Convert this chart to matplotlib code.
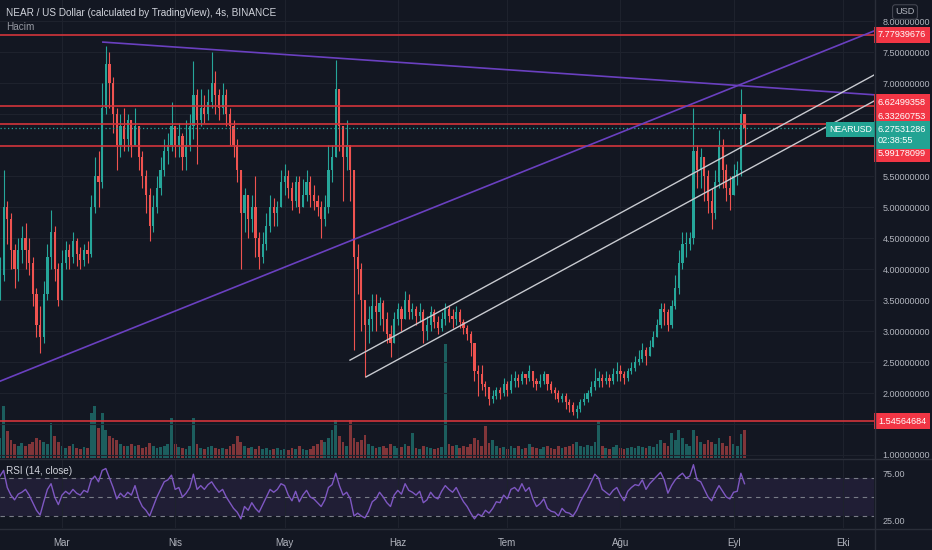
import numpy as np
import matplotlib
matplotlib.use("Agg")
import matplotlib.pyplot as plt
from matplotlib.transforms import blended_transform_factory

plt.rcParams["font.family"] = ["Liberation Sans", "DejaVu Sans"]

W, H = 932, 550
BG = "#131722"
UP = "#26a69a"
DN = "#ef5350"
TXT = "#b2b5be"
GRID = "#1e222d"
SEP = "#2a2e39"
LEVEL_RED = "#d3343b"
PURPLE = "#6a40c0"

# days counted from 1 March, one candle per day (t = -17 .. 187)
DAYS = np.arange(-17, 188)

CLOSE = [
    3.9, 5.0, 4.8, 4.3, 4.0, 4.3, 4.5, 4.3, 4.1, 3.6,
    3.1, 2.9, 3.6, 4.2, 4.6, 4.0, 3.5, 4.1, 4.3, 4.2,
    4.45, 4.25, 4.15, 4.3, 4.25, 5.0, 5.5, 5.4, 6.6, 7.3,
    7.0, 6.5, 6.0, 6.3, 6.1, 6.4, 6.0, 6.3, 5.8, 5.5,
    5.2, 4.7, 5.0, 5.3, 5.6, 5.9, 6.0, 6.3, 6.0, 6.15,
    5.8, 6.0, 6.3, 6.8, 6.4, 6.6, 6.5, 6.7, 7.0, 6.8,
    6.6, 6.8, 6.5, 6.3, 6.0, 5.6, 4.9, 5.2, 4.8, 5.0,
    4.5, 4.2, 4.4, 4.7, 5.0, 4.9, 5.0, 5.4, 5.5, 5.3,
    5.1, 5.4, 5.0, 5.2, 5.4, 5.2, 5.1, 5.0, 4.8, 5.0,
    5.6, 5.8, 6.9, 6.3, 5.8, 6.0, 5.6, 4.2, 4.0, 3.5,
    3.1, 3.2, 3.4, 3.3, 3.45, 3.2, 2.95, 2.8, 3.2, 3.35,
    3.2, 3.5, 3.3, 3.35, 3.25, 3.3, 3.0, 3.1, 3.3, 3.15,
    3.05, 3.2, 3.35, 3.25, 3.2, 3.3, 3.15, 3.05, 2.95, 2.8,
    2.35, 2.3, 2.15, 2.1, 1.9, 1.95, 2.05, 2.0, 2.15, 2.05,
    2.2, 2.25, 2.2, 2.3, 2.25, 2.35, 2.2, 2.15, 2.2, 2.3,
    2.15, 2.05, 2.0, 1.9, 1.95, 1.85, 1.8, 1.7, 1.75, 1.85,
    1.9, 2.0, 2.1, 2.2, 2.25, 2.2, 2.25, 2.2, 2.3, 2.35,
    2.3, 2.25, 2.35, 2.4, 2.5, 2.55, 2.7, 2.6, 2.75, 2.9,
    3.1, 3.35, 3.3, 3.1, 3.4, 3.7, 4.1, 4.4, 4.4, 4.5,
    5.9, 5.6, 5.8, 5.5, 5.1, 4.9, 5.4, 6.0, 5.6, 5.3,
    5.2, 5.5, 5.6, 6.5, 6.27531286,
]

HIGH = [
    4.2, 5.6, 5.1, 4.9, 4.4, 4.5, 4.7, 4.75, 4.5, 4.2,
    3.7, 3.4, 3.8, 4.4, 4.95, 4.7, 4.1, 4.3, 4.45, 4.4,
    4.6, 4.5, 4.35, 4.4, 4.45, 5.2, 5.8, 5.9, 7.0, 7.6,
    7.5, 7.1, 6.6, 6.5, 6.6, 6.5, 6.4, 6.6, 6.3, 5.9,
    5.6, 5.3, 5.2, 5.5, 5.8, 6.1, 6.2, 6.7, 6.3, 6.35,
    6.2, 6.4, 6.5, 7.35, 6.9, 6.9, 6.8, 6.9, 7.5, 7.2,
    6.9, 7.0, 6.9, 6.6, 6.4, 6.1, 5.6, 5.3, 5.2, 5.2,
    5.5, 4.6, 4.6, 4.9, 5.2, 5.15, 5.1, 5.6, 5.7, 5.6,
    5.4, 5.5, 5.5, 5.45, 5.6, 5.5, 5.35, 5.2, 5.1, 5.2,
    6.0, 6.0, 7.37, 6.9, 6.3, 6.4, 6.0, 5.6, 4.4, 4.1,
    3.5, 3.4, 3.6, 3.6, 3.55, 3.5, 3.3, 3.1, 3.3, 3.45,
    3.4, 3.65, 3.6, 3.45, 3.4, 3.45, 3.35, 3.25, 3.4, 3.35,
    3.25, 3.3, 3.45, 3.4, 3.35, 3.4, 3.35, 3.2, 3.1, 3.0,
    2.8, 2.45, 2.45, 2.2, 2.1, 2.05, 2.1, 2.1, 2.25, 2.2,
    2.3, 2.35, 2.3, 2.35, 2.3, 2.45, 2.35, 2.25, 2.3, 2.35,
    2.3, 2.2, 2.1, 2.05, 2.0, 2.0, 1.9, 1.85, 1.8, 1.9,
    2.0, 2.05, 2.2, 2.4, 2.35, 2.3, 2.35, 2.3, 2.4, 2.5,
    2.45, 2.35, 2.4, 2.5, 2.6, 2.7, 2.8, 2.75, 2.85, 3.0,
    3.2, 3.45, 3.45, 3.35, 3.5, 3.9, 4.3, 4.6, 4.6, 4.6,
    6.6, 6.0, 5.95, 5.8, 5.6, 5.3, 5.6, 6.25, 6.1, 5.7,
    5.5, 5.7, 5.75, 6.9, 6.5,
]

LOW = [
    3.5, 3.8, 4.4, 4.0, 3.7, 3.8, 4.1, 4.0, 3.9, 3.4,
    2.9, 2.65, 2.8, 3.5, 4.0, 3.8, 3.4, 3.5, 4.0, 4.0,
    4.1, 4.05, 4.0, 4.05, 4.1, 4.2, 4.9, 5.0, 5.3, 6.5,
    6.6, 6.2, 5.6, 5.8, 5.9, 5.9, 5.8, 6.0, 5.6, 5.3,
    4.9, 4.45, 4.6, 4.9, 5.2, 5.5, 5.7, 5.9, 5.8, 5.8,
    5.6, 5.6, 5.9, 6.1, 5.7, 6.3, 6.35, 6.4, 6.6, 6.5,
    6.4, 6.5, 6.3, 6.0, 5.8, 5.4, 4.0, 4.6, 4.5, 4.6,
    4.2, 4.0, 4.1, 4.3, 4.6, 4.7, 4.7, 5.0, 5.2, 5.15,
    4.95, 5.0, 4.9, 5.0, 5.1, 5.0, 4.95, 4.85, 4.5, 4.7,
    4.9, 5.4, 5.8, 5.9, 5.1, 5.6, 5.1, 2.7, 3.6, 3.0,
    2.26, 2.8, 3.0, 3.0, 3.1, 3.0, 2.8, 2.58, 2.8, 3.1,
    3.0, 3.2, 3.2, 3.2, 3.1, 3.15, 2.8, 2.85, 3.0, 3.05,
    2.95, 3.0, 3.1, 3.15, 3.05, 3.1, 3.05, 2.95, 2.85, 2.6,
    2.2, 1.95, 2.05, 1.95, 1.8, 1.84, 1.9, 1.9, 1.95, 1.95,
    2.0, 2.1, 2.1, 2.15, 2.15, 2.2, 2.1, 2.05, 2.1, 2.15,
    2.05, 2.0, 1.9, 1.85, 1.85, 1.75, 1.7, 1.65, 1.6, 1.7,
    1.8, 1.85, 1.95, 2.05, 2.1, 2.1, 2.15, 2.1, 2.15, 2.2,
    2.2, 2.15, 2.2, 2.3, 2.35, 2.45, 2.5, 2.45, 2.6, 2.75,
    2.9, 3.05, 3.1, 3.0, 3.05, 3.35, 3.6, 4.0, 4.2, 4.3,
    4.4, 5.3, 5.3, 5.1, 4.9, 4.65, 4.8, 5.3, 5.3, 5.1,
    4.95, 5.2, 5.35, 5.5, 6.0,
]

VOLUME = [
    20, 52, 27, 18, 14, 12, 15, 12, 14, 16,
    20, 18, 16, 14, 35, 22, 16, 12, 10, 12,
    14, 10, 9, 11, 10, 45, 52, 30, 45, 28,
    22, 20, 18, 14, 12, 12, 14, 12, 13, 10,
    11, 15, 12, 10, 11, 12, 14, 40, 14, 11,
    10, 9, 12, 40, 14, 10, 9, 11, 12, 10,
    9, 10, 9, 12, 14, 22, 16, 12, 10, 11,
    9, 12, 9, 10, 8, 9, 10, 8, 9, 8,
    10, 9, 12, 9, 8, 9, 12, 14, 18, 16,
    20, 28, 38, 22, 16, 12, 38, 20, 16, 18,
    23, 14, 12, 10, 11, 12, 10, 14, 12, 10,
    11, 14, 12, 25, 10, 9, 12, 11, 10, 9,
    10, 11, 114, 14, 12, 13, 10, 12, 11, 14,
    20, 18, 12, 32, 15, 18, 12, 10, 11, 9,
    12, 10, 12, 9, 10, 14, 11, 10, 9, 11,
    12, 10, 9, 12, 10, 11, 12, 14, 16, 12,
    11, 13, 12, 16, 37, 12, 10, 9, 11, 13,
    10, 9, 10, 11, 10, 12, 11, 10, 12, 11,
    14, 18, 15, 12, 25, 18, 28, 20, 14, 12,
    28, 22, 16, 14, 18, 16, 14, 20, 15, 12,
    22, 14, 12, 24, 28,
]

RSI = [
    72, 78, 60, 52, 47, 53, 55, 58, 52, 44,
    36, 31, 45, 58, 64, 50, 42, 52, 56, 53,
    58, 54, 52, 57, 55, 68, 72, 66, 78, 80,
    70, 60, 48, 54, 50, 55, 52, 62, 48, 40,
    36, 30, 40, 50, 58, 66, 68, 73, 58, 60,
    50, 54, 60, 74, 58, 62, 58, 63, 66, 60,
    55, 58, 50, 44, 38, 34, 27, 40, 36, 44,
    38, 34, 42, 50, 58, 55, 58, 64, 62, 52,
    46, 56, 45, 52, 57, 50, 48, 44, 40, 47,
    60, 63, 75, 62, 52, 55, 48, 30, 33, 30,
    28, 35, 45, 48, 55, 50, 44, 40, 52, 57,
    53, 64, 57, 55, 52, 56, 44, 47, 55, 50,
    48, 56, 62, 58, 55, 60, 52, 45, 40, 33,
    27, 32, 30, 36, 33, 38, 45, 44, 52, 48,
    58, 60, 56, 64, 56, 60, 48, 40, 43, 48,
    38, 35, 34, 30, 38, 34, 33, 30, 36, 45,
    52, 58, 66, 74, 70, 58, 55, 52, 57, 60,
    52, 46, 56, 60, 63, 62, 68, 58, 64, 68,
    72, 76, 68, 54, 62, 68, 72, 75, 70, 72,
    84, 68, 66, 58, 50, 46, 55, 62, 56, 50,
    48, 55, 56, 75, 64,
]

MONTH_DAYS = [0, 31, 61, 92, 122, 153, 184, 214]
MONTH_LABELS = ["Mar", "Nis", "May", "Haz", "Tem", "Ağu", "Eyl", "Eki"]
PRICE_TICKS = [1.0, 2.0, 2.5, 3.0, 3.5, 4.0, 4.5, 5.0, 5.5, 7.0, 7.5, 8.0]
PRICE_GRID = np.arange(1.0, 8.01, 0.5)

LEVELS = [7.77939676, 6.62499358, 6.33260753, 5.99178099, 1.54564684]
# TradingView nudges the axis labels apart (pixels, + is up)
LEVEL_LABEL_SHIFT = [0, 4, 8, -8, 0]
LAST_PRICE = 6.27531286
COUNTDOWN = "02:38:55"

# drawing anchors (day, price)
PURPLE_LINES = [[(11.2, 7.66), (222.5, 6.81)],
                [(-17.0, 2.19), (222.5, 7.84)]]
CHANNEL_LINES = [[(78.9, 2.53), (222.5, 7.13)],
                 [(83.3, 2.26), (222.5, 6.71)]]

XLIM = (-16.99, 222.47)

close = np.array(CLOSE)
high = np.array(HIGH)
low = np.array(LOW)
opn = np.r_[close[0], close[:-1]]
colors = np.where(close >= opn, UP, DN)

fig = plt.figure(figsize=(W / 100, H / 100), dpi=100, facecolor=BG)

main_rect = [0, 92 / H, 874 / W, 458 / H]
vol_ax = fig.add_axes(main_rect, zorder=0)
ax = fig.add_axes(main_rect, zorder=1)
rsi = fig.add_axes([0, 22 / H, 874 / W, 69 / H])

# volume underlay
vol_ax.set_facecolor(BG)
vol_ax.bar(DAYS, VOLUME, width=0.75, color=colors, alpha=0.5, linewidth=0)
vol_ax.set_xlim(*XLIM)
vol_ax.set_ylim(0, 4 * max(VOLUME))
vol_ax.axis("off")

# price pane
ax.patch.set_alpha(0)
ax.set_xlim(*XLIM)
ax.set_ylim(0.9516, 8.339)
for g in PRICE_GRID:
    ax.axhline(g, color=GRID, lw=0.8, zorder=0)
for m in MONTH_DAYS:
    ax.axvline(m, color=GRID, lw=0.8, zorder=0)
ax.set_yticks(PRICE_TICKS)
ax.set_yticklabels([f"{v:.8f}" for v in PRICE_TICKS])
ax.yaxis.tick_right()
ax.tick_params(axis="y", length=0, pad=6, labelsize=6.5, labelcolor=TXT)
ax.set_xticks([])
for s in ax.spines.values():
    s.set_visible(False)

ax.vlines(DAYS, low, high, colors=colors, lw=0.8, zorder=3)
ax.bar(DAYS, np.maximum(np.abs(close - opn), 0.02), bottom=np.minimum(opn, close),
       width=0.6, color=colors, linewidth=0, zorder=3)

for lvl in LEVELS:
    ax.axhline(lvl, color=LEVEL_RED, lw=1.2, zorder=4)

ax.axhline(LAST_PRICE, color=UP, lw=0.9, ls=(0, (1, 2)), zorder=4)

for (x0, y0), (x1, y1) in PURPLE_LINES:
    ax.plot([x0, x1], [y0, y1], color=PURPLE, lw=1.2, zorder=5)
for (x0, y0), (x1, y1) in CHANNEL_LINES:
    ax.plot([x0, x1], [y0, y1], color="#c8cad0", lw=1.0, zorder=5)

blend = blended_transform_factory(ax.transAxes, ax.transData)
for lvl, shift in zip(LEVELS, LEVEL_LABEL_SHIFT):
    ax.annotate(f"{lvl:.8f}", xy=(1.0, lvl), xycoords=blend,
                xytext=(4, shift), textcoords="offset pixels", ha="left", va="center",
                fontsize=6.6, color="white", annotation_clip=False, zorder=10,
                bbox=dict(boxstyle="square,pad=0.4", fc="#f23645", ec="none"))

ax.annotate(f"{LAST_PRICE:.8f}\n{COUNTDOWN}", xy=(1.0, LAST_PRICE), xycoords=blend,
            xytext=(4, 3), textcoords="offset pixels", ha="left", va="top",
            fontsize=6.6, color="white", linespacing=1.3, annotation_clip=False, zorder=11,
            bbox=dict(boxstyle="square,pad=0.4", fc="#22a393", ec="none"))
ax.text(0.9975, LAST_PRICE - 0.03, "NEARUSD", transform=blend, ha="right", va="center",
        fontsize=6.3, color="white", zorder=11,
        bbox=dict(boxstyle="square,pad=0.35", fc="#22a393", ec="none"))

# RSI pane
rsi.set_facecolor(BG)
rsi.set_xlim(*XLIM)
rsi.set_ylim(17.37, 90)
rsi.axhspan(30, 70, color="#7e57c2", alpha=0.12, lw=0)
for lv in (70, 50, 30):
    rsi.axhline(lv, color="#787b86", lw=0.8, ls=(0, (4, 4)))
rsi.plot(DAYS, RSI, color="#7e57c2", lw=1.0)
rsi.set_yticks([25, 75])
rsi.set_yticklabels(["25.00", "75.00"])
rsi.yaxis.tick_right()
rsi.tick_params(axis="y", length=0, pad=6, labelsize=6.5, labelcolor=TXT)
rsi.set_xticks(MONTH_DAYS)
rsi.set_xticklabels(MONTH_LABELS)
rsi.tick_params(axis="x", length=0, pad=7, labelsize=7, labelcolor=TXT)
rsi.grid(axis="x", color=GRID, lw=0.8)
for s in rsi.spines.values():
    s.set_visible(False)

# pane separators
fig.add_artist(plt.Line2D([0, 1], [1 - 458.5 / H] * 2, color=SEP, lw=1))
fig.add_artist(plt.Line2D([0, 1], [1 - 528.5 / H] * 2, color=SEP, lw=1))
fig.add_artist(plt.Line2D([874.5 / W] * 2, [0, 1], color=SEP, lw=1))

fig.text(6 / W, 1 - 13 / H, "NEAR / US Dollar (calculated by TradingView), 4s, BINANCE",
         fontsize=7.2, color="#d1d4dc", va="center")
fig.text(6 / W, 1 - 27 / H, "Hacim", fontsize=7.2, color="#9598a1", va="center")
fig.text(6 / W, 1 - 471 / H, "RSI (14, close)", fontsize=7.2, color="#d1d4dc", va="center")
fig.text(905 / W, 1 - 12 / H, "USD", fontsize=6.6, color=TXT, ha="center", va="center",
         bbox=dict(boxstyle="round,pad=0.3", fc=BG, ec="#434651", lw=0.8))

fig.savefig("out.png", dpi=100, facecolor=BG)
